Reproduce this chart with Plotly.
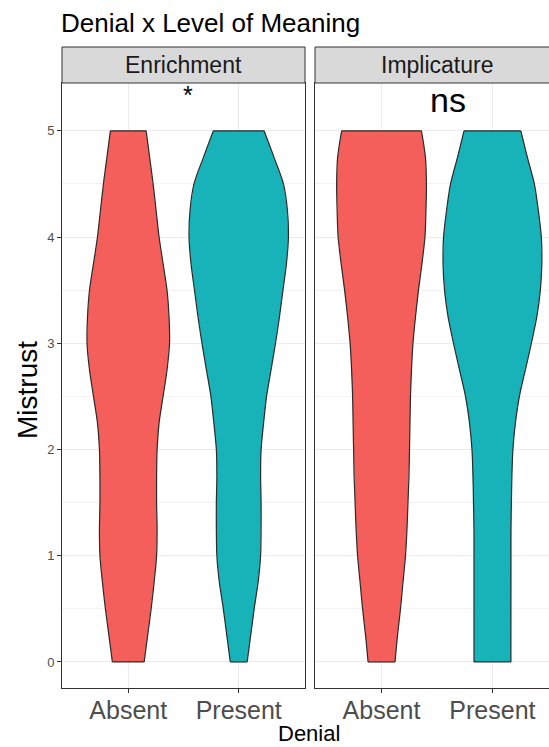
import plotly.graph_objects as go

# Mistrust levels at which the violin outline is traced
mistrust_levels = [0, 0.25, 0.5, 0.75, 1.0, 1.25, 1.5, 1.75, 2.0, 2.25, 2.5,
                   2.75, 3.0, 3.25, 3.5, 3.75, 4.0, 4.25, 4.5, 4.75, 5.0]

# Relative density (max = 1) for each Denial group within each meaning level
enrichment_absent = [0.32, 0.39, 0.46, 0.52, 0.57, 0.58, 0.57, 0.57, 0.58, 0.62, 0.70,
                     0.78, 0.83, 0.82, 0.78, 0.70, 0.62, 0.56, 0.50, 0.43, 0.36]
enrichment_present = [0.17, 0.24, 0.31, 0.39, 0.44, 0.45, 0.45, 0.44, 0.45, 0.50, 0.56,
                      0.65, 0.74, 0.82, 0.89, 0.96, 1.00, 0.98, 0.90, 0.71, 0.51]
implicature_absent = [0.27, 0.32, 0.38, 0.43, 0.48, 0.51, 0.53, 0.55, 0.56, 0.57, 0.58,
                      0.60, 0.63, 0.68, 0.74, 0.81, 0.87, 0.89, 0.90, 0.88, 0.80]
implicature_present = [0.37, 0.37, 0.37, 0.37, 0.37, 0.37, 0.38, 0.39, 0.41, 0.46, 0.54,
                       0.66, 0.78, 0.89, 0.96, 0.99, 0.98, 0.92, 0.84, 0.70, 0.57]

denial_groups = ["Absent", "Present"]
facets = ["Enrichment", "Implicature"]
significance = ["*", "ns"]
y_ticks = [0, 1, 2, 3, 4, 5]

FILL = {"Absent": "#F45F5B", "Present": "#18B2B9"}
OUTLINE = "#2B2B2B"
MAX_HALF_WIDTH = 0.45   # violin width 0.9 in category units

W, H = 549, 747


def px_x(p):
    return p / W


def px_y(p):
    return 1 - p / H


fig = go.Figure()

profiles = {
    ("Enrichment", "Absent"): enrichment_absent,
    ("Enrichment", "Present"): enrichment_present,
    ("Implicature", "Absent"): implicature_absent,
    ("Implicature", "Present"): implicature_present,
}

for fi, facet in enumerate(facets):
    xa = "x" if fi == 0 else "x2"
    ya = "y" if fi == 0 else "y2"
    for gi, group in enumerate(denial_groups):
        centre = gi + 1
        dens = profiles[(facet, group)]
        right = [centre + MAX_HALF_WIDTH * d for d in dens]
        left = [centre - MAX_HALF_WIDTH * d for d in dens]
        ys = mistrust_levels
        # filled body
        fig.add_trace(go.Scatter(
            x=right + left[::-1], y=ys + ys[::-1], xaxis=xa, yaxis=ya,
            mode="lines", fill="toself", fillcolor=FILL[group],
            line=dict(color=FILL[group], width=0),
            showlegend=False, hoverinfo="skip",
        ))
        # smooth sides of the outline
        for side in (left, right):
            fig.add_trace(go.Scatter(
                x=side, y=ys, xaxis=xa, yaxis=ya, mode="lines",
                line=dict(color=OUTLINE, width=1.2, shape="spline", smoothing=0.8),
                showlegend=False, hoverinfo="skip",
            ))
        # flat caps at the ends of the range
        fig.add_trace(go.Scatter(
            x=[left[0], right[0], None, left[-1], right[-1]],
            y=[ys[0], ys[0], None, ys[-1], ys[-1]],
            xaxis=xa, yaxis=ya, mode="lines",
            line=dict(color=OUTLINE, width=1.2),
            showlegend=False, hoverinfo="skip",
        ))

FONT = "Liberation Sans, Arial, Helvetica, sans-serif"
GRID = "#EBEBEB"
BORDER = "#333333"

panel_top, panel_bottom = 83, 688
strip_top = 47
p1_left, p1_right = 62, 305
p2_left = 315

common_x = dict(
    tickvals=[1, 2], ticktext=denial_groups, showgrid=True, gridcolor=GRID,
    gridwidth=1.1, zeroline=False, ticks="outside", ticklen=4, tickcolor=BORDER,
    tickfont=dict(family=FONT, size=25, color="#4D4D4D"), ticklabelstandoff=-4,
    showline=True, linecolor=BORDER, linewidth=1, mirror=True,
)
common_y = dict(
    range=[-0.245, 5.45], tickvals=y_ticks, showgrid=True, gridcolor=GRID,
    gridwidth=1.1, zeroline=False,
    minor=dict(dtick=0.5, showgrid=True, gridcolor="#F2F2F2", gridwidth=0.6),
)

fig.update_layout(
    width=W, height=H,
    margin=dict(l=0, r=0, t=0, b=0),
    paper_bgcolor="white", plot_bgcolor="white",
    xaxis=dict(domain=[px_x(p1_left), px_x(p1_right)], range=[0.4, 2.6], **common_x),
    xaxis2=dict(domain=[px_x(p2_left), 1.0], range=[0.4, 2.51], anchor="y2", **common_x),
    yaxis=dict(domain=[px_y(panel_bottom), px_y(panel_top)], ticks="outside", ticklen=4,
               tickcolor=BORDER, tickfont=dict(family=FONT, size=13, color="#4D4D4D"),
               showline=True, linecolor=BORDER, linewidth=1, mirror=True, **common_y),
    yaxis2=dict(domain=[px_y(panel_bottom), px_y(panel_top)], anchor="x2",
                showticklabels=False, ticks="", showline=True, linecolor=BORDER,
                linewidth=1, mirror=False, **common_y),
    showlegend=False,
)

# Facet strips
panel_width = p1_right - p1_left
strips = [(p1_left, p1_right), (p2_left, p2_left + panel_width)]
for (l, r), facet in zip(strips, facets):
    fig.add_shape(type="rect", xref="paper", yref="paper",
                  x0=px_x(l), x1=px_x(r), y0=px_y(panel_top), y1=px_y(strip_top),
                  fillcolor="#D9D9D9", line=dict(color=BORDER, width=1), layer="above")
    fig.add_annotation(xref="paper", yref="paper", x=px_x((l + r) / 2),
                       y=px_y((strip_top + panel_top) / 2), text=facet, showarrow=False,
                       xanchor="center", yanchor="middle",
                       font=dict(family=FONT, size=23, color="#1A1A1A"))

# Significance labels above each pair of violins
fig.add_annotation(xref="x", yref="y", x=1.545, y=5.34, text=significance[0],
                   showarrow=False, xanchor="center", yanchor="middle",
                   font=dict(family=FONT, size=25, color="black"))
fig.add_annotation(xref="x2", yref="y2", x=1.6, y=5.29, text=significance[1],
                   showarrow=False, xanchor="center", yanchor="middle",
                   font=dict(family=FONT, size=34, color="black"))

# Title and axis titles
fig.add_annotation(xref="paper", yref="paper", x=px_x(59), y=px_y(23),
                   text="Denial x Level of Meaning", showarrow=False,
                   xanchor="left", yanchor="middle",
                   font=dict(family=FONT, size=26, color="black"))
fig.add_annotation(xref="paper", yref="paper", x=px_x(27), y=px_y(390),
                   text="Mistrust", showarrow=False, textangle=-90,
                   xanchor="center", yanchor="middle",
                   font=dict(family=FONT, size=28, color="black"))
fig.add_annotation(xref="paper", yref="paper", x=px_x(309), y=0,
                   text="Denial", showarrow=False, xanchor="center", yanchor="bottom",
                   borderpad=0, font=dict(family=FONT, size=22, color="black"))

fig.write_html("out.html")
